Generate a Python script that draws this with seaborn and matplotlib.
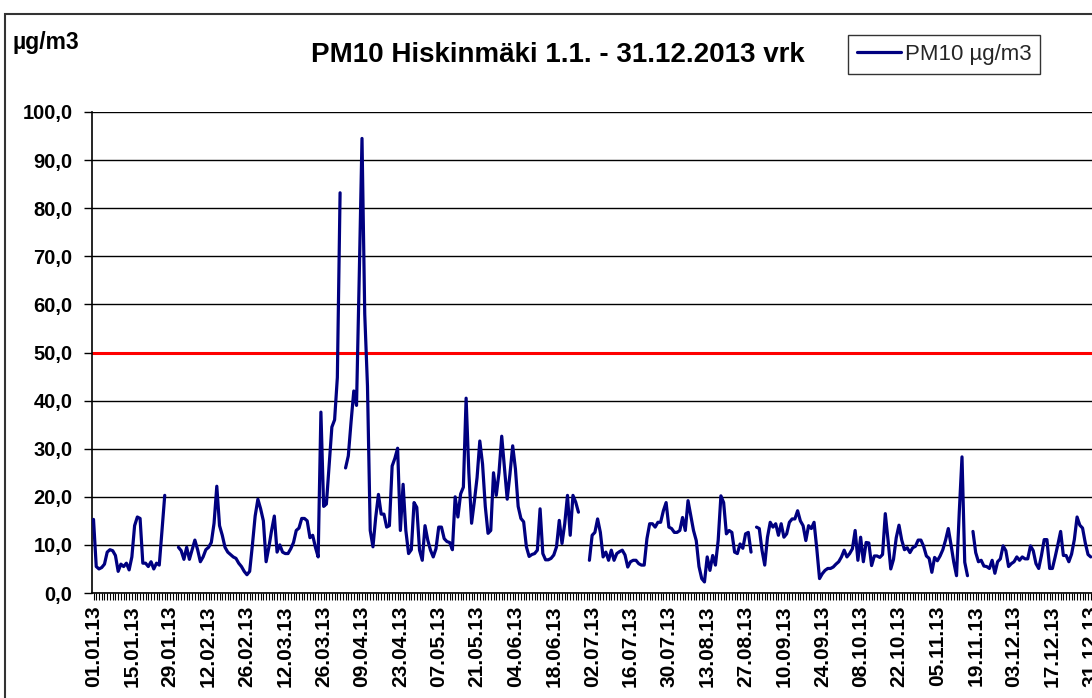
import matplotlib
matplotlib.use("Agg")
import matplotlib.pyplot as plt
import matplotlib.ticker as mticker
import numpy as np
import pandas as pd
import seaborn as sns
from matplotlib.lines import Line2D
from matplotlib.patches import Rectangle

nan = np.nan

# PM10 vuorokausiarvot (µg/m3) Hiskinmäki 2013, luettu kuvasta kuukausittain
pm10_jan = [15.3, 5.5, 5.0, 5.3, 6.0, 8.5, 9.0, 8.8, 7.8, 4.5, 6.0, 5.5, 6.2, 4.8, 7.5, 14.0,
            15.8, 15.5, 6.2, 6.2, 5.5, 6.5, 5.0, 6.2, 5.8, 13.0, 20.3, nan, nan, nan, nan]
pm10_feb = [9.5, 8.8, 7.0, 9.5, 7.0, 9.0, 11.0, 9.0, 6.5, 7.5, 9.0, 9.5, 10.5, 14.5, 22.2, 14.0,
            12.0, 9.5, 8.5, 8.0, 7.5, 7.2, 6.2, 5.5, 4.5, 3.8, 4.5, 10.0]
pm10_mar = [16.0, 19.5, 17.5, 15.0, 6.5, 9.5, 13.0, 16.0, 8.5, 10.0, 8.5, 8.2, 8.2, 9.2, 10.5, 13.0,
            13.5, 15.5, 15.5, 15.0, 11.5, 12.0, 9.5, 7.5, 37.6, 18.0, 18.5, 26.5, 34.5, 36.0, 44.8]
pm10_apr = [83.2, nan, 26.0, 28.5, 35.5, 42.0, 39.0, 66.0, 94.5, 58.0, 43.0, 13.0, 9.6, 15.7, 20.5,
            16.4, 16.4, 13.7, 14.0, 26.4, 28.0, 30.1, 13.0, 22.6, 13.0, 8.2, 9.0, 18.8, 17.8, 8.9]
pm10_may = [6.8, 14.0, 11.0, 8.9, 7.5, 9.2, 13.7, 13.7, 11.3, 10.7, 10.5, 9.0, 20.0, 15.8, 20.6, 22.0,
            40.5, 25.0, 14.5, 19.0, 24.0, 31.6, 26.8, 18.0, 12.4, 13.0, 25.0, 20.3, 25.0, 32.6, 26.0]
pm10_jun = [19.5, 24.7, 30.6, 25.8, 18.0, 15.5, 14.8, 9.6, 7.6, 8.0, 8.2, 8.9, 17.5, 8.2, 6.9, 6.9,
            7.2, 7.9, 9.6, 15.1, 10.3, 14.4, 20.3, 12.0, 20.3, 18.9, 16.8, nan, nan, nan]
pm10_jul = [6.8, 12.0, 12.6, 15.4, 12.6, 7.5, 8.5, 6.8, 8.9, 6.8, 8.2, 8.6, 8.9, 7.9, 5.4, 6.5,
            6.8, 6.8, 6.1, 5.8, 5.8, 11.3, 14.4, 14.4, 13.7, 14.7, 14.7, 17.1, 18.8, 13.7, 13.4]
pm10_aug = [12.6, 12.6, 13.0, 15.7, 13.0, 19.2, 16.1, 13.0, 10.9, 5.5, 3.0, 2.3, 7.5, 4.7, 7.8, 5.8,
            10.9, 20.2, 18.8, 12.3, 13.0, 12.6, 8.5, 8.2, 10.2, 9.3, 12.3, 12.6, 8.5, nan, 13.7]
pm10_sep = [13.4, 8.9, 5.8, 11.6, 14.7, 13.7, 14.4, 12.0, 14.4, 11.6, 12.3, 14.7, 15.4, 15.4, 17.1,
            15.0, 14.0, 10.9, 14.0, 13.4, 14.7, 9.2, 3.0, 4.0, 4.7, 5.1, 5.1, 5.4, 6.0, 6.5]
pm10_oct = [7.5, 8.9, 7.5, 8.2, 9.2, 13.0, 6.8, 11.6, 6.5, 10.5, 10.4, 5.7, 7.7, 7.7, 7.4, 8.0,
            16.5, 11.0, 5.0, 7.0, 11.5, 14.1, 11.0, 9.0, 9.4, 8.4, 9.4, 9.7, 11.0, 11.0, 9.7]
pm10_nov = [7.7, 7.2, 4.3, 7.4, 6.7, 7.7, 9.0, 11.0, 13.4, 10.0, 6.4, 3.6, 16.8, 28.3, 6.4, 3.6,
            nan, 12.8, 8.4, 6.5, 6.8, 5.6, 5.5, 5.1, 6.8, 4.1, 6.5, 7.1, 9.8, 8.8]
pm10_dec = [5.5, 6.1, 6.5, 7.5, 6.8, 7.5, 7.1, 7.1, 9.8, 8.8, 6.1, 5.1, 7.8, 11.1, 11.1, 5.1,
            5.1, 7.5, 10.1, 12.8, 7.8, 7.8, 6.5, 8.1, 11.1, 15.8, 14.1, 13.5, 10.4, 8.0, 7.5]

raja_arvo = 50.0
y_ticks = list(range(0, 101, 10))
paivat = pd.date_range("2013-01-01", "2013-12-31", freq="D")

arvot = (pm10_jan + pm10_feb + pm10_mar + pm10_apr + pm10_may + pm10_jun +
         pm10_jul + pm10_aug + pm10_sep + pm10_oct + pm10_nov + pm10_dec)

df = pd.DataFrame({"paiva": np.arange(len(paivat)), "pm10": arvot})
# puuttuvat päivät katkaisevat viivan
df["jakso"] = df["pm10"].isna().cumsum()
df = df.dropna()

sns.set_theme(style="white")
plt.rcParams["font.family"] = ["Liberation Sans", "DejaVu Sans"]

W, H = 1092, 698
fig = plt.figure(figsize=(W / 100, H / 100), dpi=100)
fig.patch.set_facecolor("white")
ax = fig.add_axes([92 / W, 105 / H, 1 - 92 / W, 481 / H])

ax.axhline(raja_arvo, color="#ff0000", lw=2.2, zorder=2)
sns.lineplot(data=df, x="paiva", y="pm10", units="jakso", estimator=None,
             color="#000080", lw=2.3, ax=ax, legend=False, zorder=3)

ax.set_xlim(-0.55, len(paivat) - 0.55)
ax.set_ylim(0, 100)
ax.set_yticks(y_ticks)
ax.yaxis.set_major_formatter(mticker.FuncFormatter(lambda v, p: f"{v:.1f}".replace(".", ",")))
tick_idx = list(range(0, len(paivat), 14))
ax.set_xticks(tick_idx)
ax.set_xticklabels([paivat[i].strftime("%d.%m.%y") for i in tick_idx], rotation=90)
ax.set_xticks(range(len(paivat)), minor=True)
ax.grid(axis="y", color="black", lw=1.0)
ax.grid(axis="x", visible=False)
ax.set_xlabel("")
ax.set_ylabel("")

for s in ["top", "right"]:
    ax.spines[s].set_visible(False)
for s in ["left", "bottom"]:
    ax.spines[s].set_color("black")
    ax.spines[s].set_linewidth(1.2)

ax.tick_params(axis="y", direction="out", length=6, width=1, color="black", pad=8,
               labelsize=14.5, left=True)
ax.tick_params(axis="x", which="both", direction="out", length=5, width=0.8, color="black",
               pad=4, labelsize=15, bottom=True)
for t in ax.get_yticklabels() + ax.get_xticklabels():
    t.set_fontweight("bold")
    t.set_color("black")

fig.text(558 / W, 1 - 55 / H, "PM10 Hiskinmäki 1.1. - 31.12.2013 vrk", ha="center",
         va="center", fontsize=20, fontweight="bold", color="black")
fig.text(12 / W, 1 - 42 / H, "µg/m3", ha="left", va="center", fontsize=16.5,
         fontweight="bold", color="black")

kahva = [Line2D([], [], color="#000080", lw=2.3)]
leg = fig.legend(kahva, ["PM10 µg/m3"], loc="upper left",
                 bbox_to_anchor=(848 / W, 1 - 35 / H), frameon=True, fancybox=False,
                 fontsize=16, borderpad=0.4, handlelength=2.0, handletextpad=0.15,
                 borderaxespad=0)
leg.get_frame().set_edgecolor("black")
leg.get_frame().set_linewidth(1.0)

# kaavion ulkoreunus
fig.patches.append(Rectangle((5 / W, -0.1), 1.2, 1.1 - 14 / H, transform=fig.transFigure,
                             fill=False, edgecolor="#333333", lw=1.5))

fig.savefig("out.png", dpi=100)
